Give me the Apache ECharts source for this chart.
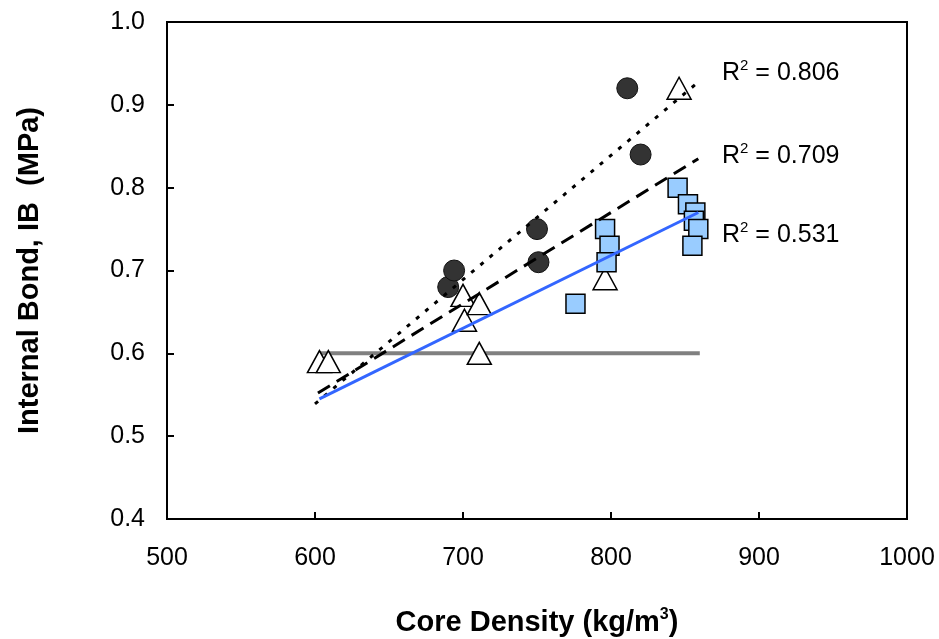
<!DOCTYPE html>
<html>
<head>
<meta charset="utf-8">
<script src="https://cdn.jsdelivr.net/npm/echarts@6/dist/echarts.min.js"></script>
<style>
  html, body { margin: 0; padding: 0; background: #fff; }
  #chart { width: 939px; height: 639px; }
</style>
</head>
<body>
<div id="chart"></div>
<script>
// data
var circles = [[690, 0.68], [694, 0.70], [750, 0.75], [751, 0.71], [811, 0.92], [820, 0.84]];
var triangles = [[603, 0.59], [609, 0.59], [700, 0.67], [701, 0.64], [711, 0.66], [711, 0.60], [796, 0.69], [846, 0.92]];
var squares = [[776, 0.66], [796, 0.75], [799, 0.73], [797, 0.71], [845, 0.80], [852, 0.78],
  [857, 0.77], [856, 0.76], [859, 0.75], [855, 0.73]];
var flatLine = [[603, 0.60], [860, 0.60]];
var dottedFit = [[600, 0.539], [858, 0.926]];
var dashedFit = [[602, 0.552], [859, 0.835]];
var blueFit = [[603, 0.545], [859, 0.770]];
var r2Labels = ['0.806', '0.709', '0.531'];

var FONT = 'Liberation Sans, Arial, sans-serif';
var chart = echarts.init(document.getElementById('chart'));

chart.setOption({
  animation: false,
  grid: {
    left: 167, right: 32, top: 22, bottom: 120,
    outerBoundsMode: 'none',
    show: true, borderColor: '#000', borderWidth: 2
  },
  xAxis: {
    type: 'value', min: 500, max: 1000, interval: 100,
    name: '{a|Core Density (kg/m}{s|3}{a|)}',
    nameLocation: 'middle', nameGap: 88,
    nameTextStyle: {
      rich: {
        a: { fontFamily: FONT, fontSize: 29, fontWeight: 'bold', color: '#000' },
        s: { fontFamily: FONT, fontSize: 16, fontWeight: 'bold', color: '#000', verticalAlign: 'top', padding: [0, 0, 16, 0] }
      }
    },
    axisLine: { lineStyle: { color: '#000', width: 2 } },
    axisTick: { inside: true, length: 7, lineStyle: { color: '#000', width: 2 } },
    axisLabel: {
      fontFamily: FONT, fontSize: 25, color: '#000', margin: 27,
      formatter: function (v) { return String(v); }
    },
    splitLine: { show: false }
  },
  yAxis: {
    type: 'value', min: 0.4, max: 1.0, interval: 0.1,
    name: 'Internal Bond, IB  (MPa)',
    nameLocation: 'middle', nameGap: 123,
    nameTextStyle: { fontFamily: FONT, fontSize: 29, fontWeight: 'bold', color: '#000' },
    axisLine: { lineStyle: { color: '#000', width: 2 } },
    axisTick: { inside: true, length: 7, lineStyle: { color: '#000', width: 2 } },
    axisLabel: {
      fontFamily: FONT, fontSize: 25, color: '#000', margin: 22,
      formatter: function (v) { return v.toFixed(1); }
    },
    splitLine: { show: false }
  },
  series: [
    {
      type: 'line', data: flatLine, symbol: 'none', z: 1,
      lineStyle: { color: '#808080', width: 4 }
    },
    {
      type: 'scatter', data: triangles, symbol: 'triangle', symbolSize: [24, 22], z: 2,
      itemStyle: { color: '#fff', borderColor: '#000', borderWidth: 1.5, opacity: 1 }
    },
    {
      type: 'scatter', data: circles, symbol: 'circle', symbolSize: 21, z: 2,
      itemStyle: { color: '#333333', borderColor: '#111', borderWidth: 1, opacity: 1 }
    },
    {
      type: 'scatter', data: squares, symbol: 'rect', symbolSize: 19, z: 2,
      itemStyle: { color: '#99ccff', borderColor: '#000', borderWidth: 1.5, opacity: 1 }
    },
    {
      type: 'line', data: dottedFit, symbol: 'none', z: 5,
      lineStyle: { color: '#000', width: 3, type: [4, 8] }
    },
    {
      type: 'line', data: dashedFit, symbol: 'none', z: 5,
      lineStyle: { color: '#000', width: 3, type: [14, 8] }
    },
    {
      type: 'line', data: blueFit, symbol: 'none', z: 5,
      lineStyle: { color: '#3366ff', width: 3 }
    }
  ],
  graphic: r2Labels.map(function (r, i) {
    return {
      type: 'text', left: 722, top: [58, 141, 220][i], z: 10,
      style: {
        text: '{a|R}{s|2}{a| = ' + r + '}',
        rich: {
          a: { fontFamily: FONT, fontSize: 25, fill: '#000' },
          s: { fontFamily: FONT, fontSize: 15, fill: '#000', verticalAlign: 'top', padding: [0, 0, 16, 0] }
        }
      }
    };
  })
});
</script>
</body>
</html>
